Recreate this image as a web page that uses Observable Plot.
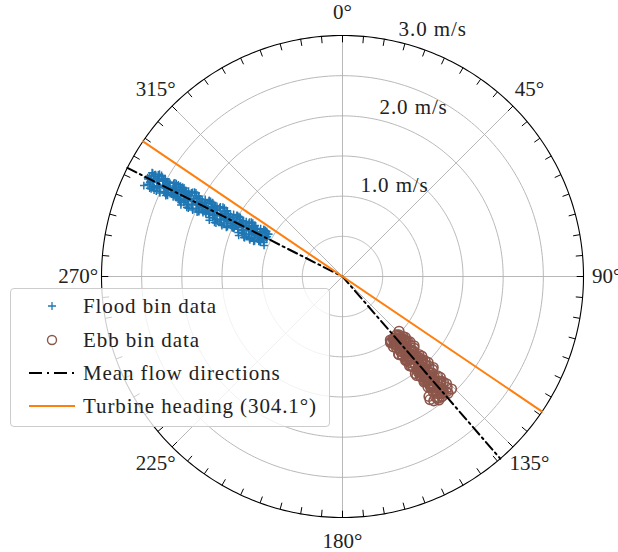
<!DOCTYPE html>
<html>
<head>
<meta charset="utf-8">
<script src="https://cdn.jsdelivr.net/npm/d3@7"></script>
<script src="https://cdn.jsdelivr.net/npm/@observablehq/plot@0.6"></script>
<style>
  body { margin: 0; background: white; }
  #wrap { position: relative; width: 618px; height: 552px; font-family: "Liberation Serif", "DejaVu Serif", "Noto Serif", serif; }
  #legend { position: absolute; left: 10px; top: 288px; width: 320px; height: 139px; border: 1px solid #cccccc; border-radius: 4px; background: rgba(255,255,255,0.8); box-sizing: border-box; }
  .row { position: absolute; left: 0; height: 34px; width: 100%; }
  .row svg { position: absolute; left: 6px; top: 0; }
  .row span { position: absolute; left: 72px; top: 0; line-height: 34px; font-size: 21px; letter-spacing: 0.9px; color: #222; white-space: nowrap; }
  .rlab { letter-spacing: 0.9px; }
</style>
</head>
<body>
<div id="wrap"></div>
<script>
// ---- data ----
const rMax = 3.0;
const ringValues = [0.5, 1.0, 1.5, 2.0, 2.5, 3.0];
const ringLabels = ["1.0 m/s", "2.0 m/s", "3.0 m/s"];
const ringLabelValues = [1.0, 2.0, 3.0];
const angleTicks = [0, 45, 90, 135, 180, 225, 270, 315];
const angleLabels = ["0°", "45°", "90°", "135°", "180°", "225°", "270°", "315°"];
const meanFlowDirections = [296.8, 139.1]; // flood, ebb
const turbineHeading = 304.1;

// Flood bin data: speed (m/s) and direction (deg)
const floodSpeed = [
  1.05,1.06,1.08,1.09,1.11,1.12,1.14,1.15,1.17,1.18,1.20,1.21,1.23,1.24,1.26,1.27,1.29,1.30,1.32,1.33,1.35,1.36,1.38,1.39,
  1.39,1.37,1.36,1.34,1.33,1.31,1.30,1.28,1.27,1.25,1.24,1.22,1.21,1.19,1.18,1.16,1.15,1.13,1.12,1.10,1.09,1.07,1.06,1.05,
  1.07,1.10,1.13,1.16,1.19,1.22,1.25,1.28,1.31,1.34,1.37,1.08,1.11,1.14,1.17,1.20,1.23,1.26,1.29,1.32,1.35,1.38,1.06,1.12,
  1.41,1.42,1.44,1.46,1.48,1.49,1.51,1.53,1.55,1.56,1.58,1.60,1.62,1.63,1.65,1.67,1.69,1.70,1.72,1.74,1.76,1.77,1.79,1.80,
  1.80,1.78,1.77,1.75,1.73,1.71,1.70,1.68,1.66,1.64,1.63,1.61,1.59,1.57,1.56,1.54,1.52,1.50,1.49,1.47,1.45,1.43,1.42,1.40,
  1.43,1.47,1.50,1.54,1.57,1.61,1.64,1.68,1.71,1.75,1.78,1.45,1.48,1.52,1.55,1.59,1.62,1.66,1.69,1.73,1.76,1.79,1.41,1.51,
  1.81,1.83,1.84,1.86,1.88,1.90,1.91,1.93,1.95,1.97,1.98,2.00,2.02,2.04,2.05,2.07,2.09,2.11,2.12,2.14,2.16,2.18,2.19,2.20,
  2.20,2.19,2.17,2.15,2.13,2.12,2.10,2.08,2.06,2.05,2.03,2.01,1.99,1.98,1.96,1.94,1.92,1.91,1.89,1.87,1.85,1.84,1.82,1.80,
  1.82,1.86,1.89,1.93,1.96,2.00,2.03,2.07,2.10,2.14,2.17,1.84,1.87,1.91,1.94,1.98,2.01,2.05,2.08,2.12,2.15,2.19,1.81,1.92,
  2.21,2.23,2.25,2.27,2.30,2.32,2.34,2.36,2.39,2.41,2.43,2.45,2.48,2.50,2.52,2.54,2.57,2.59,2.61,2.63,2.66,2.68,2.70,2.72,
  2.72,2.69,2.67,2.65,2.62,2.60,2.58,2.56,2.53,2.51,2.49,2.47,2.44,2.42,2.40,2.38,2.35,2.33,2.31,2.29,2.26,2.24,2.22,2.20,
  2.22,2.26,2.31,2.35,2.40,2.44,2.49,2.53,2.58,2.62,2.67,2.71,2.24,2.28,2.33,2.37,2.42,2.46,2.51,2.55,2.60,2.64,2.69,2.30,
  2.71,2.66,2.62,2.57,2.53,2.48,2.44,2.39,2.35,2.30,2.26,2.21,2.69,2.64,2.60,2.55,2.51,2.46,2.42,2.37,2.33,2.28,2.24,2.50];
const floodDir = [
  291.6,297.9,295.0,299.7,293.3,296.8,300.8,293.9,298.5,292.1,296.2,295.6,299.1,291.6,300.3,294.5,297.4,292.7,300.8,295.6,297.9,293.3,299.7,296.2,
  291.6,297.9,295.0,299.7,293.3,296.8,300.8,293.9,298.5,292.1,296.2,295.6,299.1,291.6,300.3,294.5,297.4,292.7,300.8,295.6,297.9,293.3,299.7,296.2,
  296.8,300.8,293.9,298.5,292.1,296.2,295.6,299.1,291.6,300.3,294.5,297.4,292.7,300.8,295.6,297.9,293.3,299.7,296.2,291.6,297.9,295.0,299.7,293.3,
  292.9,297.9,295.6,299.2,294.3,297.0,300.1,294.7,298.3,293.4,296.5,296.1,298.8,292.9,299.7,295.2,297.4,293.8,300.1,296.1,297.9,294.3,299.2,296.5,
  292.9,297.9,295.6,299.2,294.3,297.0,300.1,294.7,298.3,293.4,296.5,296.1,298.8,292.9,299.7,295.2,297.4,293.8,300.1,296.1,297.9,294.3,299.2,296.5,
  297.0,300.1,294.7,298.3,293.4,296.5,296.1,298.8,292.9,299.7,295.2,297.4,293.8,300.1,296.1,297.9,294.3,299.2,296.5,292.9,297.9,295.6,299.2,294.3,
  293.9,297.9,296.1,299.0,295.0,297.2,299.7,295.4,298.2,294.3,296.8,296.4,298.6,293.9,299.3,295.7,297.5,294.6,299.7,296.4,297.9,295.0,299.0,296.8,
  293.9,297.9,296.1,299.0,295.0,297.2,299.7,295.4,298.2,294.3,296.8,296.4,298.6,293.9,299.3,295.7,297.5,294.6,299.7,296.4,297.9,295.0,299.0,296.8,
  297.2,299.7,295.4,298.2,294.3,296.8,296.4,298.6,293.9,299.3,295.7,297.5,294.6,299.7,296.4,297.9,295.0,299.0,296.8,293.9,297.9,296.1,299.0,295.0,
  294.6,297.8,296.3,298.6,295.4,297.2,299.2,295.7,298.1,294.9,296.9,296.6,298.4,294.6,298.9,296.0,297.5,295.2,299.2,296.6,297.8,295.4,298.6,296.9,
  294.6,297.8,296.3,298.6,295.4,297.2,299.2,295.7,298.1,294.9,296.9,296.6,298.4,294.6,298.9,296.0,297.5,295.2,299.2,296.6,297.8,295.4,298.6,296.9,
  297.2,299.2,295.7,298.1,294.9,296.9,296.6,298.4,294.6,298.9,296.0,297.5,295.2,299.2,296.6,297.8,295.4,298.6,296.9,294.6,297.8,296.3,298.6,295.4,
  296.6,298.4,294.6,298.9,296.0,297.5,295.2,299.2,296.6,297.8,295.4,298.6,296.9,294.6,297.8,296.3,298.6,295.4,297.2,299.2,295.7,298.1,294.9,296.9];

// Ebb bin data: speed (m/s) and direction (deg)
const ebbSpeed = [
  0.98,1.00,0.99,1.02,1.01,1.03,1.02,1.05,1.04,1.06,1.05,1.08,1.07,1.09,1.08,1.11,1.10,1.12,1.11,1.14,
  1.13,1.15,1.14,1.17,1.16,1.18,1.17,1.20,1.19,1.21,1.20,1.23,1.22,1.24,1.23,1.25,1.01,1.07,1.13,1.19,
  1.26,1.28,1.27,1.30,1.29,1.32,1.31,1.34,1.33,1.36,1.35,1.38,1.37,1.40,1.39,1.42,1.41,1.44,1.43,1.46,
  1.45,1.48,1.47,1.50,1.49,1.52,1.51,1.54,1.53,1.56,1.55,1.58,1.57,1.60,1.59,1.27,1.33,1.39,1.45,1.51,
  1.57,1.30,1.42,1.48,1.54,
  1.61,1.63,1.62,1.65,1.64,1.67,1.66,1.69,1.68,1.71,1.70,1.73,1.72,1.75,1.74,1.77,1.76,1.79,1.78,1.81,
  1.80,1.83,1.82,1.85,1.84,1.87,1.86,1.89,1.88,1.91,1.90,1.93,1.92,1.95,1.94,1.96,1.65,1.72,1.79,1.86,
  1.93,1.68,1.84,1.88,1.92,
  1.00,1.04,1.09,1.13,1.18,1.22,1.27,1.31,1.36,1.40,1.45,1.49,1.54,1.58,1.63,1.67,1.72,1.76,1.81,1.85,1.90,1.94,
  1.02,1.06,1.11,1.15,1.20,1.24,1.29,1.33,1.38,1.42,1.47,1.51,1.56,1.60,1.65,1.69,1.74,1.78,1.83,1.87,1.92,
  0.99,1.10,1.21,1.32,1.43,1.54,1.65,1.76,1.87,1.95,1.03,1.16,1.34,1.52,1.70,1.89,1.60];
const ebbDir = [
  134.1,141.0,137.2,143.4,136.0,139.1,144.1,136.6,141.6,134.8,139.7,138.5,142.2,134.1,144.1,137.9,140.3,135.4,142.8,139.1,
  136.6,141.6,134.8,139.7,138.5,142.2,134.1,144.1,137.9,140.3,135.4,142.8,139.1,134.1,141.0,137.2,143.4,136.0,139.1,144.1,
  135.1,140.6,137.6,142.6,136.6,139.1,143.1,137.1,141.1,135.6,139.6,138.6,141.6,135.1,143.1,138.1,140.1,136.1,142.1,139.1,
  137.1,141.1,135.6,139.6,138.6,141.6,135.1,143.1,138.1,140.1,136.1,142.1,139.1,135.1,140.6,137.6,142.6,136.6,139.1,143.1,
  139.4,138.2,140.5,137.8,141.3,
  135.9,140.3,137.9,141.9,137.1,139.1,142.3,137.5,140.7,136.3,139.5,138.7,141.1,135.9,142.3,138.3,139.9,136.7,141.5,139.1,
  137.5,140.7,136.3,139.5,138.7,141.1,135.9,142.3,138.3,139.9,136.7,141.5,139.1,135.9,140.3,137.9,139.6,138.4,140.2,139.0,
  138.0,141.0,144.2,144.6,143.7,
  140.0,138.0,141.5,137.0,142.0,139.5,136.5,141.0,138.5,142.5,137.5,140.5,139.0,141.5,137.5,140.0,138.5,141.5,137.8,140.8,138.8,140.4,
  137.0,142.5,135.8,140.2,138.0,142.8,136.6,140.8,137.4,141.9,138.9,136.8,140.6,137.9,141.4,138.6,140.3,137.2,141.8,138.2,142.2,
  143.0,135.5,139.5,141.8,136.8,140.4,138.2,140.9,139.2,142.0,138.0,141.2,137.4,140.6,138.6,140.0,139.3];

// ---- helpers (polar -> cartesian, compass convention: 0° north, clockwise) ----
const rad = d => d * Math.PI / 180;
const px = (r, a) => r * Math.sin(rad(a));
const py = (r, a) => r * Math.cos(rad(a));

const ringData = ringValues.flatMap(v => d3.range(0, 361, 1).map(a => ({ring: v, x: px(v, a), y: py(v, a)})));
const spokes = angleTicks.map(a => ({x1: 0, y1: 0, x2: px(rMax, a), y2: py(rMax, a)}));
const tickLen = 0.085;
const ticks = d3.range(0, 360, 5).map(a => ({x1: px(rMax, a), y1: py(rMax, a), x2: px(rMax - tickLen, a), y2: py(rMax - tickLen, a)}));
const angLabelR = rMax + 0.29;
const angLab = angleTicks.map((a, i) => ({x: px(angLabelR, a), y: py(angLabelR, a), t: angleLabels[i]}));
const rLabAngle = 13.7;
const rLab = ringLabelValues.map((v, i) => ({x: px(v, rLabAngle), y: py(v, rLabAngle), t: ringLabels[i]}));
const flood = floodSpeed.map((s, i) => ({x: px(s, floodDir[i]), y: py(s, floodDir[i])}));
const ebb = ebbSpeed.map((s, i) => ({x: px(s, ebbDir[i]), y: py(s, ebbDir[i])}));
const meanLine = [
  {x: px(rMax, meanFlowDirections[0]), y: py(rMax, meanFlowDirections[0])},
  {x: 0, y: 0},
  {x: px(rMax, meanFlowDirections[1]), y: py(rMax, meanFlowDirections[1])}
];
const turbLine = [
  {x: px(rMax, turbineHeading), y: py(rMax, turbineHeading)},
  {x: px(rMax, turbineHeading - 180), y: py(rMax, turbineHeading - 180)}
];

const chart = Plot.plot({
  width: 618, height: 552,
  marginLeft: 101, marginRight: 35, marginTop: 35, marginBottom: 35,
  x: {domain: [-rMax, rMax], axis: null},
  y: {domain: [-rMax, rMax], axis: null},
  style: {fontFamily: "'Liberation Serif', 'DejaVu Serif', 'Noto Serif', serif", fontSize: "21px", background: "white", overflow: "visible"},
  marks: [
    Plot.line(ringData.filter(d => d.ring < rMax), {x: "x", y: "y", z: "ring", stroke: "#b0b0b0", strokeWidth: 0.9}),
    Plot.link(spokes, {x1: "x1", y1: "y1", x2: "x2", y2: "y2", stroke: "#b0b0b0", strokeWidth: 0.9}),
    Plot.line(ringData.filter(d => d.ring === rMax), {x: "x", y: "y", stroke: "#000", strokeWidth: 1.1}),
    Plot.link(ticks, {x1: "x1", y1: "y1", x2: "x2", y2: "y2", stroke: "#000", strokeWidth: 1}),
    Plot.text(angLab, {x: "x", y: "y", text: "t", fill: "#222", textAnchor: "middle", lineAnchor: "middle"}),
    Plot.text(rLab, {x: "x", y: "y", text: "t", fill: "#222", textAnchor: "start", lineAnchor: "middle", dx: -1, dy: -13, className: "rlab"}),
    Plot.dot(flood, {x: "x", y: "y", symbol: "plus", r: 2.6, stroke: "#1f77b4", strokeWidth: 1.5}),
    Plot.dot(ebb, {x: "x", y: "y", symbol: "circle", r: 4.8, stroke: "#8c564b", fill: "none", strokeWidth: 1.6}),
    Plot.line(meanLine, {x: "x", y: "y", stroke: "#000", strokeWidth: 2, strokeDasharray: "10,4,2,4"}),
    Plot.line(turbLine, {x: "x", y: "y", stroke: "#ff7f0e", strokeWidth: 2})
  ]
});
const wrap = document.getElementById("wrap");
wrap.appendChild(chart);

const legend = document.createElement("div");
legend.id = "legend";
const rows = [
  {label: "Flood bin data", svg: '<path d="M31,17H39M35,13V21" stroke="#1f77b4" stroke-width="1.3" fill="none"/>'},
  {label: "Ebb bin data", svg: '<circle cx="35" cy="17" r="4.5" stroke="#8c564b" stroke-width="1.4" fill="none"/>'},
  {label: "Mean flow directions", svg: '<line x1="12" y1="17" x2="58" y2="17" stroke="#000" stroke-width="2" stroke-dasharray="13,5,2,5"/>'},
  {label: "Turbine heading (304.1°)", svg: '<line x1="12" y1="17" x2="58" y2="17" stroke="#ff7f0e" stroke-width="2"/>'}
];
const rowTops = [0, 34, 67, 100];
rows.forEach((r, i) => {
  const d = document.createElement("div");
  d.className = "row";
  d.style.top = rowTops[i] + "px";
  d.innerHTML = `<svg width="64" height="34">${r.svg}</svg><span>${r.label}</span>`;
  legend.appendChild(d);
});
wrap.appendChild(legend);
</script>
</body>
</html>
